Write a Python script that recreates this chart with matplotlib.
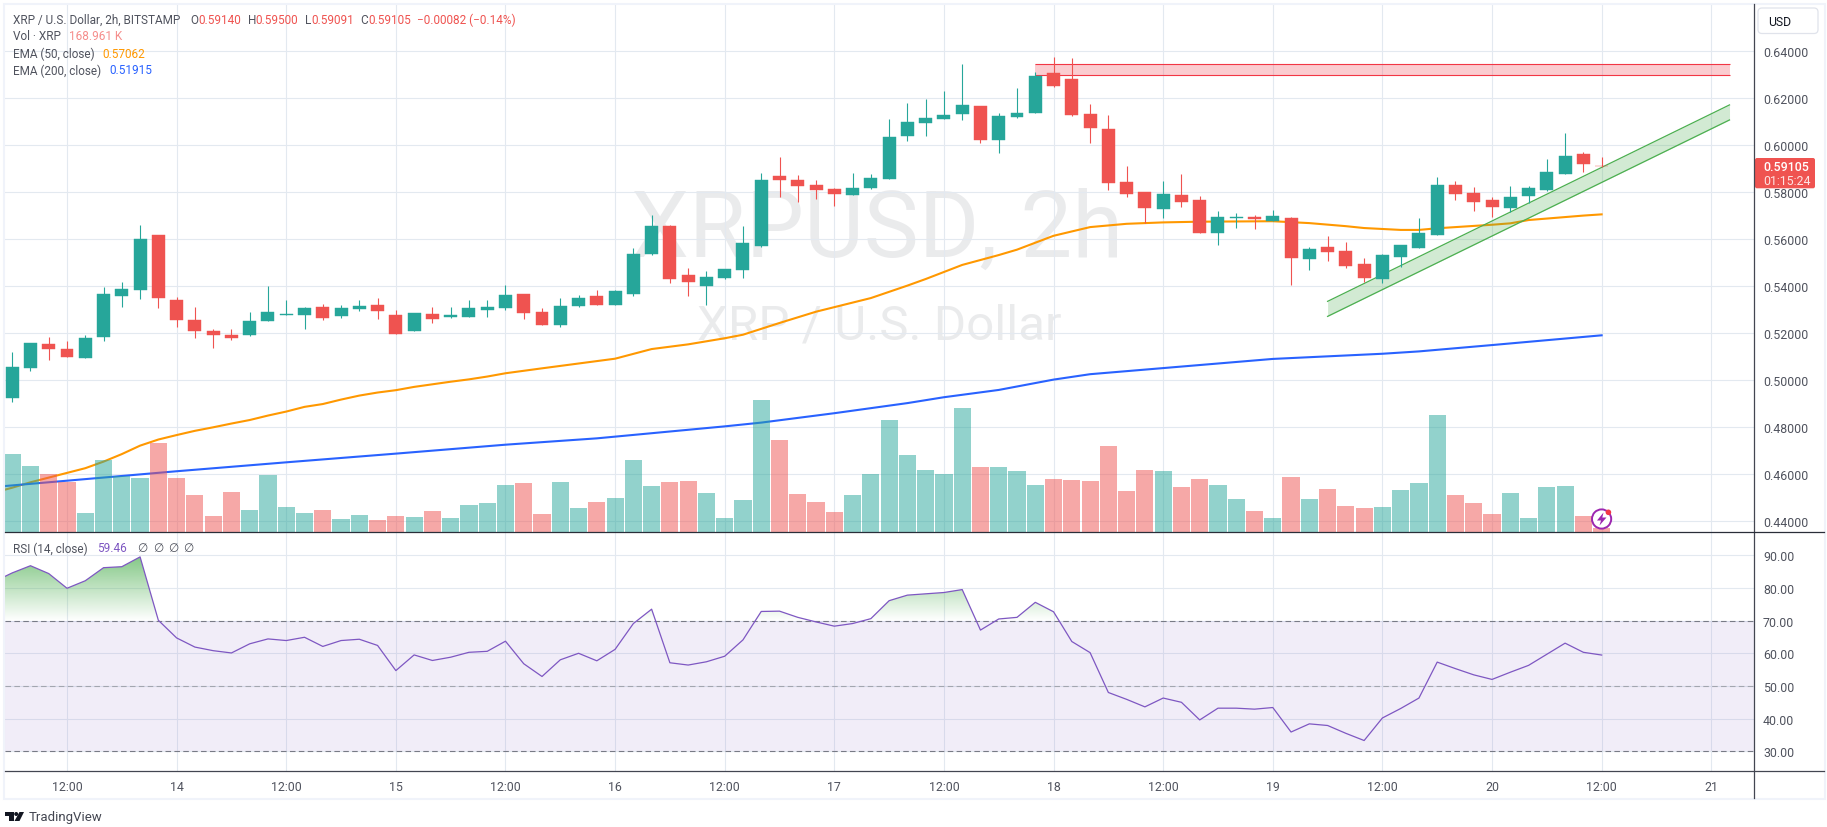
import numpy as np
import matplotlib
matplotlib.use('Agg')
import matplotlib.pyplot as plt
from matplotlib.colors import to_rgb
from matplotlib.patches import Circle, FancyBboxPatch, Polygon, Rectangle
from matplotlib.path import Path

plt.rcParams['font.family'] = ['Roboto', 'DejaVu Sans']

# -----------------------------
# XRP/USD 2h bars
# -----------------------------
open_ = [
    .4926, .5053, .5155, .5133, .5095, .5184, .5359, .5384, .5618, .5342,
    .5257, .5210, .5193, .5193, .5253, .5278, .5278, .5312, .5274, .5304,
    .5321, .5278, .5210, .5282, .5270, .5270, .5299, .5308, .5367, .5291,
    .5236, .5316, .5359, .5321, .5367, .5538, .5657, .5448, .5401, .5436,
    .5470, .5572, .5870, .5853, .5831, .5814, .5789, .5819, .5857, .6040,
    .6095, .6112, .6133, .6167, .6023, .6121, .6138, .6308, .6282, .6133,
    .6070, .5844, .5801, .5729, .5789, .5767, .5627, .5691, .5695, .5678,
    .5691, .5516, .5567, .5550, .5495, .5431, .5525, .5563, .5618, .5831,
    .5797, .5767, .5733, .5784, .5810, .5878, .5963, .59140,
]
high = [
    .5121, .5159, .5184, .5167, .5193, .5397, .5418, .5661, .5618, .5355,
    .5312, .5218, .5218, .5291, .5401, .5342, .5312, .5325, .5321, .5342,
    .5350, .5299, .5287, .5312, .5312, .5342, .5342, .5406, .5367, .5308,
    .5350, .5363, .5384, .5384, .5563, .5704, .5661, .5478, .5465, .5474,
    .5657, .5882, .5950, .5874, .5853, .5819, .5882, .5878, .6112, .6180,
    .6197, .6231, .6346, .6167, .6138, .6244, .6312, .6376, .6372, .6176,
    .6129, .5912, .5801, .5848, .5878, .5784, .5721, .5712, .5704, .5725,
    .5695, .5567, .5614, .5589, .5521, .5538, .5576, .5691, .5865, .5848,
    .5823, .5780, .5827, .5827, .5942, .6052, .5972, .59500,
]
low = [
    .4908, .5040, .5087, .5099, .5095, .5167, .5312, .5346, .5308, .5227,
    .5180, .5138, .5172, .5189, .5253, .5278, .5218, .5257, .5265, .5295,
    .5261, .5197, .5210, .5244, .5265, .5270, .5270, .5299, .5261, .5236,
    .5227, .5312, .5321, .5321, .5359, .5533, .5414, .5359, .5321, .5431,
    .5436, .5567, .5780, .5759, .5772, .5742, .5789, .5814, .5857, .6018,
    .6040, .6112, .6108, .6010, .5967, .6116, .6138, .6248, .6125, .6010,
    .5810, .5780, .5670, .5691, .5738, .5627, .5576, .5648, .5644, .5678,
    .5406, .5470, .5508, .5478, .5418, .5414, .5482, .5563, .5618, .5767,
    .5721, .5695, .5716, .5755, .5806, .5878, .5887, .59091,
]
close = [
    .5057, .5159, .5133, .5099, .5180, .5367, .5389, .5601, .5350, .5257,
    .5210, .5193, .5180, .5253, .5291, .5282, .5308, .5265, .5308, .5316,
    .5295, .5197, .5287, .5261, .5278, .5308, .5312, .5363, .5287, .5236,
    .5316, .5350, .5321, .5380, .5538, .5657, .5431, .5418, .5440, .5474,
    .5584, .5853, .5853, .5827, .5810, .5793, .5819, .5861, .6035, .6099,
    .6116, .6129, .6172, .6023, .6125, .6138, .6295, .6253, .6129, .6074,
    .5840, .5793, .5733, .5793, .5759, .5627, .5695, .5695, .5687, .5699,
    .5521, .5559, .5546, .5487, .5436, .5533, .5576, .5627, .5831, .5793,
    .5759, .5738, .5780, .5819, .5887, .5955, .5919, .59105,
]

# volume in thousands of XRP
volume = [
    3055, 2587, 2275, 1963, 754, 2821, 2197, 2119, 3484, 2119,
    1456, 637, 1573, 871, 2236, 988, 754, 871, 520, 676,
    481, 637, 598, 832, 559, 1066, 1144, 1846, 1924, 715,
    1963, 949, 1183, 1339, 2821, 1807, 1963, 2002, 1534, 559,
    1261, 5161, 3601, 1495, 1183, 793, 1456, 2275, 4381, 3016,
    2431, 2275, 4849, 2548, 2548, 2392, 1846, 2080, 2041, 2002,
    3367, 1612, 2431, 2392, 1768, 2080, 1846, 1300, 832, 559,
    2158, 1300, 1690, 1027, 949, 988, 1651, 1924, 4576, 1456,
    1144, 715, 1534, 559, 1768, 1807, 637, 168.961,
]

rsi = [
    84.6, 86.8, 84.4, 79.9, 82.2, 86.2, 86.5, 89.5, 70.1, 64.7,
    61.9, 60.8, 60.1, 62.9, 64.4, 63.9, 64.9, 62.1, 63.9, 64.3,
    62.4, 54.7, 59.5, 57.8, 58.8, 60.3, 60.6, 63.7, 56.8, 52.9,
    58.0, 60.0, 57.7, 61.2, 69.1, 73.5, 57.1, 56.4, 57.4, 59.1,
    64.1, 72.8, 72.9, 71.0, 69.6, 68.3, 69.1, 70.6, 76.1, 77.8,
    78.2, 78.6, 79.5, 67.1, 70.5, 71.0, 75.6, 72.7, 63.6, 60.2,
    48.0, 45.9, 43.6, 46.3, 45.0, 39.6, 43.2, 43.2, 42.9, 43.4,
    35.9, 38.4, 37.9, 35.5, 33.3, 40.2, 43.1, 46.3, 57.3, 55.3,
    53.4, 52.0, 54.2, 56.3, 59.7, 63.1, 60.3, 59.46,
]
rsi_before_first_bar = 81.9

# moving averages, read at the listed bar numbers (-1 is the bar before the window)
ema50_bars = [-1, 0, 1, 2, 3, 4, 5, 6, 7, 8, 9, 10, 11, 12, 13, 14, 15, 16, 17, 18, 19, 20, 21,
              22, 23, 24, 25, 26, 27, 29, 33, 35, 37, 39, 40, 42, 44, 47, 49, 50, 52, 54, 55,
              57, 59, 61, 63, 65, 69, 71, 73, 74, 76, 77, 78, 81, 82, 83, 86, 87]
ema50 = [.4522, .4543, .4566, .4586, .4606, .4626, .4654, .4686, .4722, .4748, .4767, .4785,
         .4800, .4816, .4831, .4850, .4867, .4887, .4899, .4918, .4935, .4948, .4958, .4972,
         .4983, .4994, .5004, .5016, .5030, .5051, .5092, .5133, .5153, .5179, .5194, .5244,
         .5292, .5350, .5403, .5431, .5491, .5533, .5556, .5615, .5652, .5666, .5672, .5675,
         .5677, .5669, .5656, .5648, .5640, .5640, .5647, .5662, .5668, .5682, .5701, .57062]
ema200_bars = [-1, 9, 15, 21, 27, 32, 39, 41, 45, 49, 51, 54, 57, 59, 63, 69, 75, 77, 81, 87]
ema200 = [.4546, .4613, .4651, .4688, .4726, .4753, .4804, .4820, .4860, .4903, .4928, .4959,
          .5003, .5026, .5052, .5091, .5113, .5123, .5150, .51915]

# resistance zone and rising channel
zone_bars = [56, 94]
zone_prices = [.6298, .6345]
channel_bars = [72, 94]
channel_lower = [.5272, .6108]
channel_upper = [.5336, .6172]

price_ticks = [.44, .46, .48, .50, .52, .54, .56, .58, .60, .62, .64]
rsi_ticks = [30, 40, 50, 60, 70, 80, 90]
time_ticks = [3, 9, 15, 21, 27, 33, 39, 45, 51, 57, 63, 69, 75, 81, 87, 93]
time_labels = ['12:00', '14', '12:00', '15', '12:00', '16', '12:00', '17',
               '12:00', '18', '12:00', '19', '12:00', '20', '12:00', '21']

UP = '#26a69a'
DOWN = '#ef5350'
GRID = '#e3e9f0'
AXIS_TEXT = '#50535e'
LEGEND_TEXT = '#50535e'
FRAME = '#f0f3fa'
AXIS_LINE = '#434651'
RSI_COLOR = '#7e57c2'

W, H = 1827, 828
fig = plt.figure(figsize=(W / 100, H / 100), dpi=100, facecolor='white')


def pane(x0, y0, x1, y1, **kw):
    return fig.add_axes([x0 / W, 1 - y1 / H, (x1 - x0) / W, (y1 - y0) / H], **kw)


bars = np.arange(len(close))
open_arr, close_arr = np.array(open_), np.array(close)
colors = [UP if c >= o else DOWN for o, c in zip(open_, close)]
XLIM = (-0.394, 95.34)
PRICE_LIM = (.43532, .66014)
RSI_LIM = (23.88, 97.03)
VOL_LIM = (0, 20604)

# -----------------------------
# price pane: three stacked layers
# -----------------------------
ax_back = pane(5, 5, 1754, 533.3, zorder=1)
ax_vol = pane(5, 5, 1754, 533.3, zorder=2)
ax_price = pane(5, 5, 1754, 533.3, zorder=3)
ax_rsi = pane(5, 533.3, 1754, 772.3, zorder=1)
ax_top = fig.add_axes([0, 0, 1, 1], zorder=10)
ax_top.set_xlim(0, W)
ax_top.set_ylim(H, 0)
ax_top.axis('off')

for ax in (ax_vol, ax_price):
    ax.patch.set_alpha(0)

for ax in (ax_back, ax_vol, ax_price, ax_rsi):
    ax.set_xlim(*XLIM)
    for s in ax.spines.values():
        s.set_visible(False)

ax_back.set_ylim(*PRICE_LIM)
ax_price.set_ylim(*PRICE_LIM)
ax_vol.set_ylim(*VOL_LIM)
ax_rsi.set_ylim(*RSI_LIM)
ax_vol.set_xticks([])
ax_vol.set_yticks([])

ax_back.set_xticks(time_ticks)
ax_back.set_yticks(price_ticks)
ax_back.tick_params(length=0, labelbottom=False, labelleft=False)
ax_back.grid(True, color=GRID, lw=0.8, zorder=2)
ax_back.set_axisbelow(False)

# symbol watermark sits behind everything
ax_back.text(877, 256.7, 'XRPUSD, 2h', transform=ax_top.transData, fontsize=66.5, ha='center',
             va='baseline', color='#787b86', alpha=0.15, zorder=1)
ax_back.text(697, 340, 'XRP / U.S. Dollar', transform=ax_top.transData, fontsize=35.5, ha='left',
             va='baseline', color='#787b86', alpha=0.15, zorder=1)

ax_back.plot(ema50_bars, ema50, color='#ff9800', lw=1.5, zorder=3)
ax_back.plot(ema200_bars, ema200, color='#2962ff', lw=1.5, zorder=3)

ax_vol.bar(bars, volume, width=0.94, color=colors, alpha=0.5, linewidth=0)

# drawings under the candles
ax_price.fill_between(zone_bars, zone_prices[0], zone_prices[1], color='#f23645', alpha=0.25,
                      linewidth=0, zorder=1)
ax_price.hlines(zone_prices, zone_bars[0], zone_bars[1], color='#f23645', lw=0.8, zorder=1)
ax_price.fill_between(channel_bars, channel_lower, channel_upper, color='#4caf50', alpha=0.25,
                      linewidth=0, zorder=1)
ax_price.plot(channel_bars, channel_lower, color='#4caf50', lw=0.9, zorder=1)
ax_price.plot(channel_bars, channel_upper, color='#4caf50', lw=0.9, zorder=1)

ax_price.vlines(bars, low, high, colors=colors, lw=0.8, zorder=2)
ax_price.bar(bars, np.abs(close_arr - open_arr), bottom=np.minimum(open_arr, close_arr), width=0.71,
             color=colors, edgecolor=colors, linewidth=0.3, zorder=3)

ax_price.set_xticks([])
ax_price.yaxis.tick_right()
ax_price.set_yticks(price_ticks)
ax_price.set_yticklabels([f'{p:.5f}' for p in price_ticks])
ax_price.tick_params(axis='y', length=0, pad=6.5, labelsize=8.9, labelcolor=AXIS_TEXT)

# -----------------------------
# RSI pane
# -----------------------------
rsi_x = np.concatenate([[-1], bars])
rsi_y = np.array([rsi_before_first_bar] + rsi)

ax_rsi.set_xticks(time_ticks)
ax_rsi.set_xticklabels(time_labels)
ax_rsi.yaxis.tick_right()
ax_rsi.set_yticks(rsi_ticks)
ax_rsi.set_yticklabels([f'{r:.2f}' for r in rsi_ticks])
ax_rsi.tick_params(axis='y', length=0, pad=6.5, labelsize=8.9, labelcolor=AXIS_TEXT)
ax_rsi.tick_params(axis='x', length=0, pad=6.5, labelsize=8.9, labelcolor=AXIS_TEXT)
ax_rsi.grid(True, color=GRID, lw=0.8, zorder=0)
ax_rsi.set_axisbelow(True)

ax_rsi.axhspan(30, 70, color=RSI_COLOR, alpha=0.1, linewidth=0, zorder=1)
ax_rsi.axhline(70, color='#787b86', lw=0.8, dashes=(5, 3), zorder=2)
ax_rsi.axhline(50, color='#a3a6af', lw=0.8, dashes=(5, 3), zorder=2)
ax_rsi.axhline(30, color='#787b86', lw=0.8, dashes=(5, 3), zorder=2)

# overbought fill: green fades out towards the 70 line
over = ax_rsi.fill_between(rsi_x, rsi_y, 70, where=rsi_y > 70, interpolate=True, facecolor='none',
                           linewidth=0)
clip = Path.make_compound_path(*over.get_paths())
levels = np.linspace(70, 100, 256)
shade = np.zeros((256, 1, 4))
shade[..., :3] = to_rgb('#4caf50')
shade[:, 0, 3] = np.clip((levels - 70) / 20, 0, 1) * 0.7
img = ax_rsi.imshow(shade, extent=[XLIM[0], XLIM[1], 70, 100], origin='lower', aspect='auto', zorder=2)
img.set_clip_path(clip, transform=ax_rsi.transData)
ax_rsi.set_xlim(*XLIM)
ax_rsi.set_ylim(*RSI_LIM)

ax_rsi.plot(rsi_x, rsi_y, color=RSI_COLOR, lw=0.9, zorder=3)

# -----------------------------
# frame, separators, legends
# -----------------------------
ax_top.add_patch(Rectangle((4, 4.5), 1821, 795.5, fill=False, edgecolor=FRAME, lw=1.5))
ax_top.plot([1754, 1754], [4.5, 799.5], color=AXIS_LINE, lw=0.9)
ax_top.plot([5, 1824], [533.3, 533.3], color='#2a2e39', lw=0.9)
ax_top.plot([5, 1824], [772.3, 772.3], color=AXIS_LINE, lw=0.9)


def label(x, y, s, color=LEGEND_TEXT, size=8.5, **kw):
    ax_top.text(x, y, s, color=color, fontsize=size, va='center', ha=kw.pop('ha', 'left'), **kw)


label(13, 20, 'XRP / U.S. Dollar, 2h, BITSTAMP')
for x, s in [(190, 'O'), (247.6, 'H'), (305, 'L'), (360.5, 'C')]:
    label(x, 20, s)
for x, s in [(198, '0.59140'), (255.6, '0.59500'), (311, '0.59091'), (368, '0.59105'),
             (417, '\u22120.00082 (\u22120.14%)')]:
    label(x, 20, s, color=DOWN)
label(13, 37, 'Vol \u00b7 XRP')
label(69, 37, '168.961 K', color='#f58d8b')
label(13, 54, 'EMA (50, close)')
label(102.6, 54, '0.57062', color='#ff9800')
label(13, 71, 'EMA (200, close)')
label(109, 71, '0.51915', color='#2962ff')
label(13, 549, 'RSI (14, close)')
label(97, 549, '59.46', color=RSI_COLOR)
for x in [137.5, 153, 168, 183]:
    label(x, 549, '\u2205', size=8.5)

# currency button and last price tag
ax_top.add_patch(FancyBboxPatch((1758, 9), 60, 25.5, boxstyle='round,pad=0,rounding_size=4',
                                facecolor='white', edgecolor='#e0e3eb', lw=0.9))
label(1768, 22, 'USD', color='#131722', size=8.8)
ax_top.add_patch(FancyBboxPatch((1755, 159), 60, 30.3, boxstyle='round,pad=0,rounding_size=2',
                                facecolor=DOWN, edgecolor='none'))
label(1763, 167.7, '0.59105', color='white', size=8.9, fontweight='medium')
label(1763, 181.7, '01:15:24', color='#fde3e2', size=8.9)

# pending-news bolt marker on the last bar
ax_top.add_patch(Circle((1601.6, 520), 9.6, facecolor='white', edgecolor='#9c27b0', lw=1.4))
ax_top.add_patch(Polygon([(1603.5, 513.5), (1597, 521.5), (1601, 521.5), (1599.5, 526.5),
                          (1606.5, 518.5), (1602.3, 518.5)], facecolor='#9c27b0', edgecolor='none'))
ax_top.add_patch(Circle((1608.4, 513.3), 2.8, facecolor='#f23645', edgecolor='none'))

# TradingView wordmark
ax_top.add_patch(Polygon([(5, 813), (13.5, 813), (13.5, 822), (9, 822), (9, 817), (5, 817)],
                         facecolor='#131722', edgecolor='none'))
ax_top.add_patch(Circle((16.2, 815), 2.0, facecolor='#131722', edgecolor='none'))
ax_top.add_patch(Polygon([(19.5, 813), (24, 813), (19.5, 822), (14.5, 822)],
                         facecolor='#131722', edgecolor='none'))
label(28.5, 818, 'TradingView', color='#434651', size=9.5)

fig.savefig('out.png', dpi=100)
